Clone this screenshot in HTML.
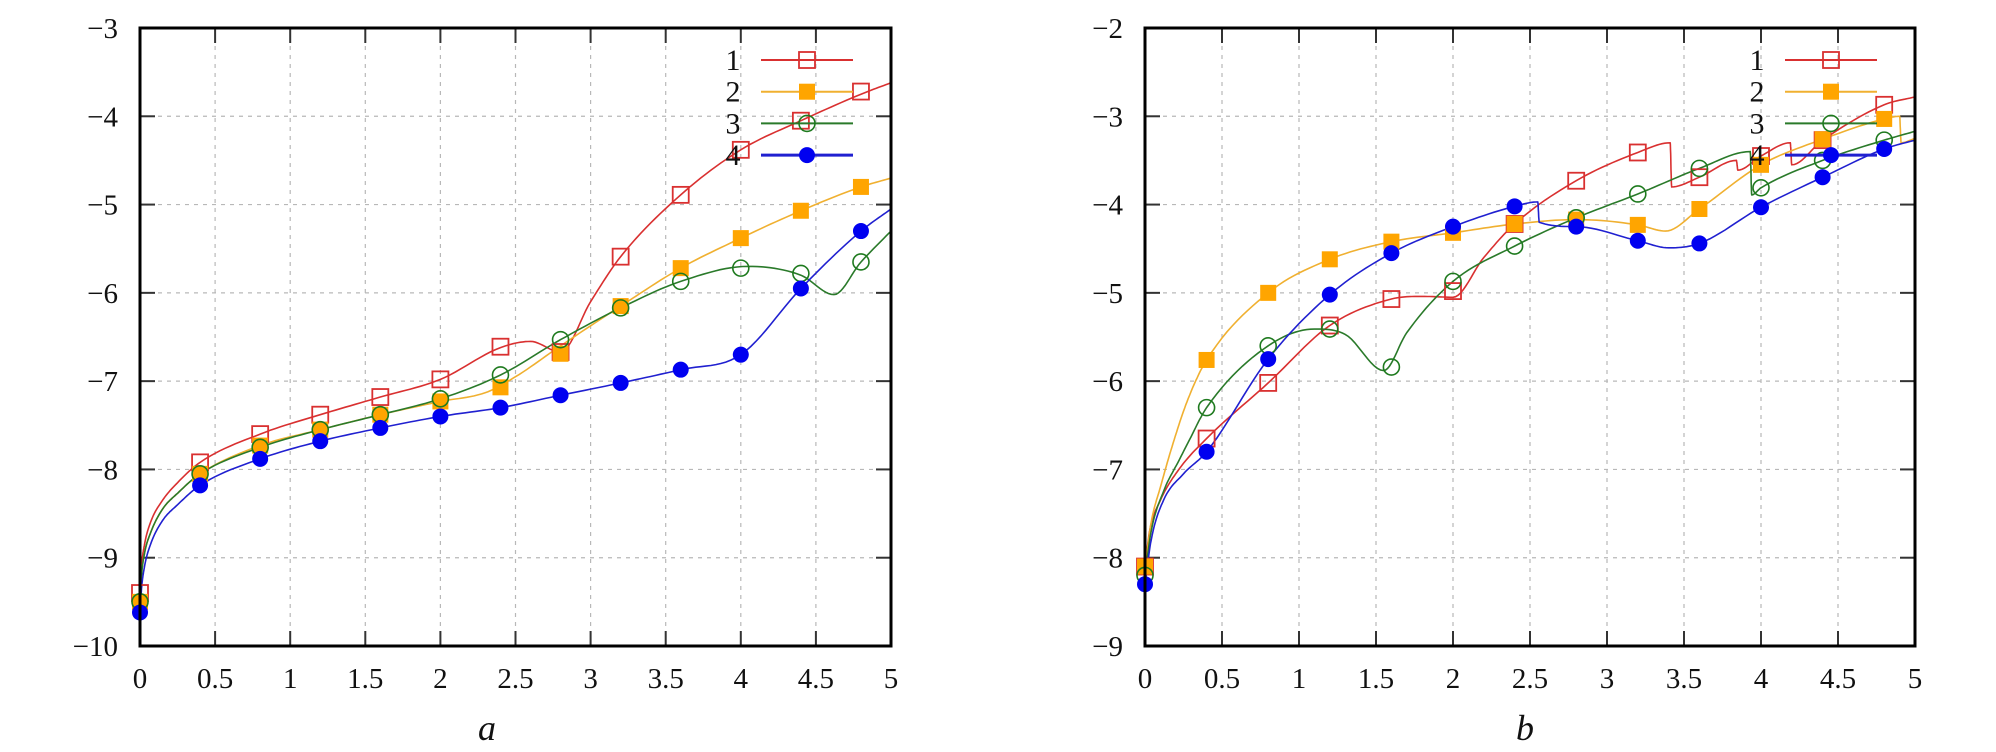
<!DOCTYPE html>
<html><head><meta charset="utf-8"><style>
html,body{margin:0;padding:0;background:#fff;}
svg{display:block;}
svg text{font-family:"Liberation Serif","DejaVu Serif",serif !important;fill:#111;}
</style></head><body>
<svg id="chart" width="1996" height="752" viewBox="0 0 1996 752" xmlns="http://www.w3.org/2000/svg"></svg>
<script>
// ---------- data ----------
const markerX = [0,0.4,0.8,1.2,1.6,2.0,2.4,2.8,3.2,3.6,4.0,4.4,4.8];
const xTicks = [0,0.5,1,1.5,2,2.5,3,3.5,4,4.5,5];
const xTickLabels = ["0","0.5","1","1.5","2","2.5","3","3.5","4","4.5","5"];
const yTicksA = [-10,-9,-8,-7,-6,-5,-4,-3];
const yTicksB = [-9,-8,-7,-6,-5,-4,-3,-2];
const seriesNames = ["1","2","3","4"];

// panel a markers
const a1 = [-9.4,-7.92,-7.6,-7.38,-7.18,-6.98,-6.61,-6.67,-5.59,-4.89,-4.38,-4.05,-3.72];
const a2 = [-9.5,-8.05,-7.73,-7.55,-7.38,-7.23,-7.07,-6.69,-6.15,-5.72,-5.38,-5.07,-4.8];
const a3 = [-9.5,-8.05,-7.75,-7.55,-7.38,-7.2,-6.93,-6.53,-6.17,-5.87,-5.72,-5.78,-5.65];
const a4 = [-9.62,-8.18,-7.88,-7.68,-7.53,-7.4,-7.3,-7.16,-7.02,-6.87,-6.7,-5.95,-5.3];
// panel a curve knots [x,y]
const a1Line = [[0,-9.4],[0.01,-9.1],[0.03,-8.85],[0.07,-8.6],[0.15,-8.35],[0.25,-8.15],[0.4,-7.92],[0.8,-7.6],[1.2,-7.38],[1.6,-7.18],[2.0,-6.98],[2.4,-6.62],[2.6,-6.55],[2.8,-6.67],[3.0,-6.1],[3.2,-5.59],[3.6,-4.89],[4.0,-4.38],[4.4,-4.05],[4.8,-3.75],[5,-3.62]];
const a2Line = [[0,-9.5],[0.01,-9.2],[0.03,-8.95],[0.07,-8.72],[0.15,-8.45],[0.25,-8.27],[0.4,-8.05],[0.8,-7.73],[1.2,-7.55],[1.6,-7.38],[2.0,-7.23],[2.3,-7.13],[2.5,-6.95],[2.8,-6.6],[3.2,-6.15],[3.6,-5.72],[4.0,-5.38],[4.4,-5.07],[4.8,-4.8],[5,-4.7]];
const a3Line = [[0,-9.5],[0.01,-9.2],[0.03,-8.95],[0.07,-8.72],[0.15,-8.45],[0.25,-8.27],[0.4,-8.05],[0.8,-7.75],[1.2,-7.55],[1.6,-7.38],[2.0,-7.2],[2.4,-6.93],[2.8,-6.53],[3.2,-6.17],[3.6,-5.87],[4.05,-5.7],[4.4,-5.8],[4.62,-6.02],[4.8,-5.65],[5,-5.3]];
const a4Line = [[0,-9.62],[0.01,-9.35],[0.03,-9.1],[0.07,-8.85],[0.15,-8.58],[0.25,-8.4],[0.4,-8.18],[0.8,-7.88],[1.2,-7.68],[1.6,-7.53],[2.0,-7.4],[2.4,-7.3],[2.8,-7.16],[3.2,-7.02],[3.6,-6.87],[4.0,-6.7],[4.4,-5.95],[4.8,-5.3],[5,-5.05]];

// panel b markers
const b1 = [-8.1,-6.65,-6.02,-5.37,-5.07,-4.98,-4.22,-3.73,-3.41,-3.69,-3.45,-3.27,-2.87];
const b2 = [-8.1,-5.76,-5.0,-4.62,-4.42,-4.32,-4.22,-4.17,-4.23,-4.05,-3.55,-3.26,-3.03];
const b3 = [-8.2,-6.3,-5.6,-5.41,-5.84,-4.87,-4.47,-4.15,-3.88,-3.59,-3.81,-3.5,-3.27];
const b4 = [-8.3,-6.8,-5.75,-5.02,-4.55,-4.25,-4.02,-4.25,-4.41,-4.44,-4.03,-3.69,-3.37];
// panel b curve knots
const b1Line = [[0,-8.1],[0.03,-7.7],[0.1,-7.35],[0.22,-7.0],[0.4,-6.65],[0.8,-6.02],[1.2,-5.37],[1.6,-5.07],[1.8,-5.04],[2.0,-5.05],[2.2,-4.6],[2.4,-4.22],[2.8,-3.73],[3.2,-3.41],[3.41,-3.3],[3.42,-3.8],[3.6,-3.69],[3.84,-3.5],[3.85,-3.61],[4.0,-3.45],[4.19,-3.3],[4.2,-3.55],[4.4,-3.27],[4.8,-2.87],[5,-2.78]];
const b2Line = [[0,-8.1],[0.04,-7.6],[0.1,-7.2],[0.19,-6.66],[0.28,-6.2],[0.4,-5.76],[0.8,-5.0],[1.2,-4.62],[1.6,-4.42],[2.0,-4.32],[2.4,-4.22],[2.8,-4.17],[3.2,-4.23],[3.38,-4.3],[3.6,-4.05],[4.0,-3.55],[4.4,-3.26],[4.8,-3.03],[4.9,-3.0],[4.91,-3.3],[5,-3.25]];
const b3Line = [[0,-8.2],[0.04,-7.7],[0.12,-7.25],[0.22,-6.9],[0.29,-6.66],[0.4,-6.3],[0.8,-5.6],[1.1,-5.41],[1.3,-5.47],[1.55,-5.88],[1.7,-5.45],[2.0,-4.87],[2.4,-4.47],[2.8,-4.15],[3.2,-3.88],[3.6,-3.59],[3.93,-3.4],[3.94,-3.89],[4.0,-3.81],[4.4,-3.5],[4.8,-3.27],[5,-3.17]];
const b4Line = [[0,-8.3],[0.04,-7.8],[0.12,-7.35],[0.25,-7.05],[0.4,-6.8],[0.8,-5.75],[1.2,-5.02],[1.6,-4.55],[2.0,-4.25],[2.4,-4.02],[2.55,-3.97],[2.56,-4.2],[2.8,-4.25],[3.2,-4.41],[3.4,-4.49],[3.6,-4.44],[4.0,-4.03],[4.4,-3.69],[4.8,-3.37],[5,-3.27]];

// ---------- drawing ----------
const NS="http://www.w3.org/2000/svg";
const svg=document.getElementById('chart');
const colors=["#d93030","#ffa500","#1e7a1e","#0000f0"];
const lineColors=["#d93030","#f0b030","#2a7a2a","#2020d0"];
const SERIF='"Liberation Serif", "DejaVu Serif", serif';

function el(tag,attrs,parent){const e=document.createElementNS(NS,tag);for(const k in attrs)e.setAttribute(k,attrs[k]);if(tag==='text')e.setAttribute('font-family',SERIF);(parent||svg).appendChild(e);return e;}

function monotone(pts){
  const n=pts.length,xs=pts.map(p=>p[0]),ys=pts.map(p=>p[1]);
  const d=[],m=[];
  for(let i=0;i<n-1;i++)d.push((ys[i+1]-ys[i])/(xs[i+1]-xs[i]));
  m[0]=d[0];m[n-1]=d[n-2];
  for(let i=1;i<n-1;i++){m[i]=(d[i-1]*d[i]<=0)?0:(d[i-1]+d[i])/2;}
  for(let i=0;i<n-1;i++){
    if(d[i]===0){m[i]=0;m[i+1]=0;continue;}
    const a=m[i]/d[i],b=m[i+1]/d[i],s=a*a+b*b;
    if(s>9){const t=3/Math.sqrt(s);m[i]=t*a*d[i];m[i+1]=t*b*d[i];}
  }
  return {xs,ys,m};
}

function drawPanel(opt){
  const g=el('g',{});
  
  
  const L=opt.left,R=opt.right,T=28,B=646;
  const sx=v=>L+(v-0)/5*(R-L);
  const sy=v=>T+(opt.ymax-v)/(opt.ymax-opt.ymin)*(B-T);
  xTicks.forEach((t,i)=>{
    if(i>0&&i<xTicks.length-1){const gl=el('line',{x1:sx(t),x2:sx(t),y1:T,y2:B,stroke:'#b8b8b8','stroke-width':1.2,'stroke-dasharray':'4,5'},g);
    
    }
  });
  opt.yTicks.forEach((t,i)=>{
    if(i>0&&i<opt.yTicks.length-1){const gl=el('line',{x1:L,x2:R,y1:sy(t),y2:sy(t),stroke:'#b8b8b8','stroke-width':1.2,'stroke-dasharray':'4,5'},g);
    
    }
  });
  xTicks.forEach((t,i)=>{
    el('line',{x1:sx(t),x2:sx(t),y1:B,y2:B-15,stroke:'#333','stroke-width':2},g);
    el('line',{x1:sx(t),x2:sx(t),y1:T,y2:T+15,stroke:'#333','stroke-width':2},g);
    const tx=el('text',{x:sx(t),y:688,'font-size':29,'text-anchor':'middle'},g);
    tx.textContent=xTickLabels[i];
    
    
  });
  opt.yTicks.forEach(t=>{
    el('line',{x1:L,x2:L+15,y1:sy(t),y2:sy(t),stroke:'#333','stroke-width':2},g);
    el('line',{x1:R,x2:R-15,y1:sy(t),y2:sy(t),stroke:'#333','stroke-width':2},g);
    const tx=el('text',{x:L-22,y:sy(t)+10,'font-size':29,'text-anchor':'end'},g);
    tx.textContent='\u2212'+Math.abs(t);
    
    
  });
  const lines=opt.lines,marks=opt.marks;
  lines.forEach((pts,k)=>{
    const s=monotone(pts);let d='';
    for(let i=0;i<s.xs.length-1;i++){
      const h=s.xs[i+1]-s.xs[i];
      for(let j=0;j<=12;j++){
        if(i>0&&j===0)continue;
        const t=j/12,t2=t*t,t3=t2*t;
        const y=(2*t3-3*t2+1)*s.ys[i]+(t3-2*t2+t)*h*s.m[i]+(-2*t3+3*t2)*s.ys[i+1]+(t3-t2)*h*s.m[i+1];
        const x=s.xs[i]+t*h;
        d+=(d?'L':'M')+sx(x).toFixed(1)+','+sy(y).toFixed(1);
      }
    }
    const p=el('path',{d:d,fill:'none',stroke:lineColors[k],'stroke-width':1.6},g);
    
    
  });
  function marker(k,x,y,parent){
    let m;
    if(k===0)m=el('rect',{x:x-8,y:y-8,width:16,height:16,fill:'none',stroke:colors[0],'stroke-width':1.8},parent);
    else if(k===1)m=el('rect',{x:x-8,y:y-8,width:16,height:16,fill:colors[1],stroke:'none'},parent);
    else if(k===2)m=el('circle',{cx:x,cy:y,r:8,fill:'none',stroke:colors[2],'stroke-width':1.6},parent);
    else m=el('circle',{cx:x,cy:y,r:8,fill:colors[3]},parent);
    return m;
  }
  marks.forEach((vals,k)=>{
    vals.forEach((v,i)=>{
      const m=marker(k,sx(markerX[i]),sy(v),g);
      
      
    });
  });
  seriesNames.forEach((nm,k)=>{
    const y=60+k*31.7;
    const lg=el('g',{},g);
    
    
    const tx=el('text',{x:opt.legX,y:y+10,'font-size':30,'text-anchor':'middle'},lg);
    tx.textContent=nm;
    el('line',{x1:opt.legX+28,x2:opt.legX+120,y1:y,y2:y,stroke:lineColors[k],'stroke-width':k===3?3:2},lg);
    marker(k,opt.legX+74,y,lg);
  });
  const fr=el('rect',{x:L,y:T,width:R-L,height:B-T,fill:'none',stroke:'#000','stroke-width':3},g);
  
  
  const cap=el('text',{x:opt.capX,y:740,'font-size':36,'font-style':'italic','text-anchor':'middle'},g);
  cap.textContent=opt.caption;
  
  
}

drawPanel({name:'panel-a',left:140,right:891,ymin:-10,ymax:-3,yTicks:yTicksA,
  lines:[a1Line,a2Line,a3Line,a4Line],marks:[a1,a2,a3,a4],legX:733,capX:487,caption:'a'});
drawPanel({name:'panel-b',left:1145,right:1915,ymin:-9,ymax:-2,yTicks:yTicksB,
  lines:[b1Line,b2Line,b3Line,b4Line],marks:[b1,b2,b3,b4],legX:1757,capX:1525,caption:'b'});
</script>
</body></html>
